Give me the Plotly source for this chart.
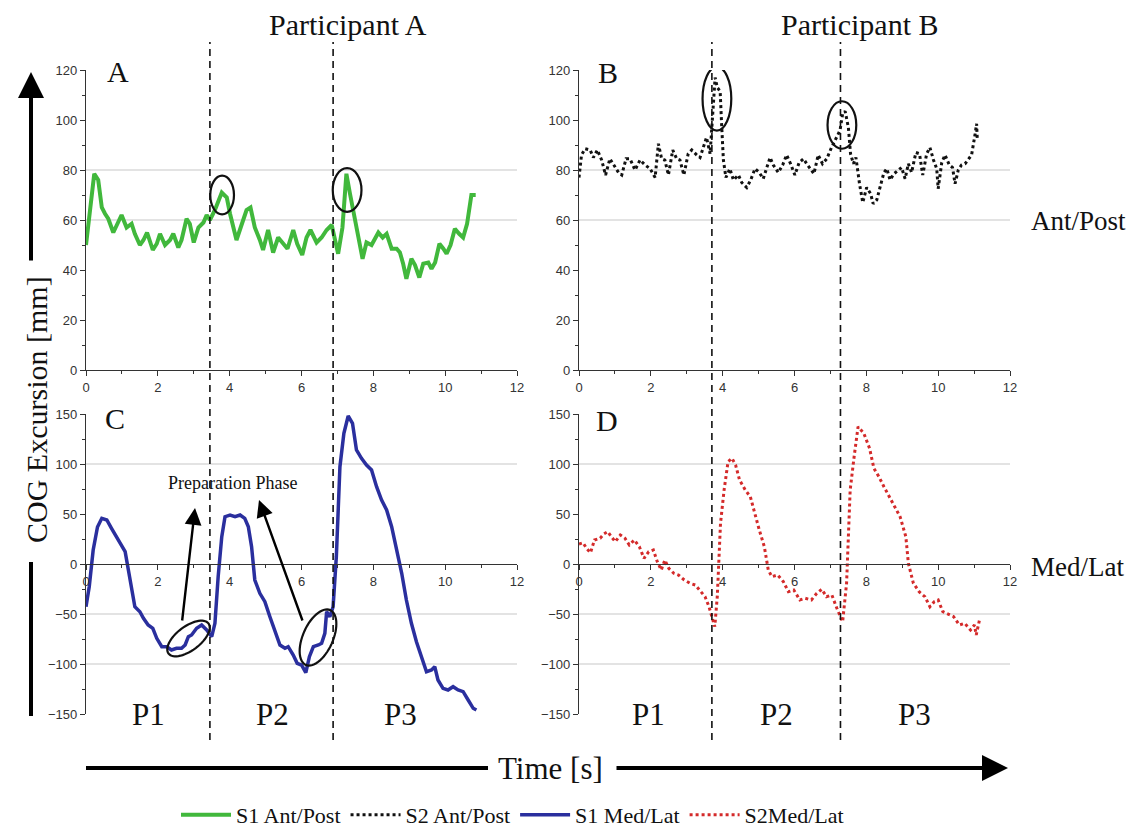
import math
import plotly.graph_objects as go

# ---------------- data ----------------
t_s1_ap = [0, 0.23, 0.34, 0.44, 0.53, 0.62, 0.76, 0.85, 0.99, 1.13, 1.27, 1.36, 1.5, 1.6, 1.7, 1.86, 1.97, 2.06, 2.2, 2.34,
           2.43, 2.57, 2.66, 2.8, 2.89, 3.0, 3.13, 3.27, 3.36, 3.45, 3.59, 3.78, 3.92, 4.01, 4.19, 4.33, 4.47, 4.58, 4.7, 4.84,
           4.93, 5.07, 5.21, 5.35, 5.49, 5.61, 5.77, 5.88, 6.02, 6.14, 6.25, 6.42, 6.56, 6.7, 6.84, 6.93, 7.02, 7.14, 7.25, 7.35,
           7.49, 7.58, 7.7, 7.81, 7.95, 8.14, 8.26, 8.37, 8.51, 8.65, 8.74, 8.83, 8.92, 9.06, 9.16, 9.28, 9.39, 9.53, 9.62, 9.72,
           9.84, 9.95, 10.04, 10.15, 10.27, 10.39, 10.5, 10.61, 10.73, 10.85]
s1_ap = [50, 78.5, 76, 65, 62.5, 60.5, 55, 58, 62, 57, 58.5, 54.5, 50, 52, 55, 48, 50.5, 54.5, 50, 52,
         54.5, 49, 52, 60.5, 58.5, 51, 57, 59, 62, 60, 64, 71, 69, 62.5, 52, 58, 64, 65, 57, 52,
         48, 56, 47, 53, 50.5, 48.5, 56, 50.5, 46, 53, 56, 51, 53, 56, 58, 53, 46.5, 57, 78.5, 70.5,
         60, 52, 44.5, 51, 50, 55, 53, 54.5, 48.5, 48.5, 47, 42.5, 36.5, 44.5, 42, 37, 42.5, 43, 40.5, 43,
         50.5, 48.5, 46.5, 50, 56.5, 54.5, 53, 58.5, 70, 70]

t_s2_ap = [0, 0.07, 0.17, 0.31, 0.4, 0.51, 0.63, 0.74, 0.86, 0.97, 1.1, 1.19, 1.31, 1.42, 1.56, 1.7, 1.84, 1.98, 2.12, 2.21,
           2.3, 2.39, 2.49, 2.61, 2.72, 2.81, 2.92, 3.04, 3.14, 3.28, 3.37, 3.46, 3.55, 3.65, 3.69, 3.74, 3.79, 3.85, 3.93, 3.97,
           4.02, 4.09, 4.2, 4.3, 4.44, 4.53, 4.67, 4.78, 4.9, 5.02, 5.13, 5.23, 5.32, 5.41, 5.55, 5.67, 5.78, 5.89, 6.01, 6.13,
           6.25, 6.34, 6.43, 6.54, 6.66, 6.78, 6.9, 7.03, 7.17, 7.27, 7.34, 7.41, 7.5, 7.56, 7.64, 7.71, 7.81, 7.9, 8.01, 8.12,
           8.19, 8.29, 8.38, 8.49, 8.57, 8.66, 8.77, 8.89, 8.98, 9.08, 9.17, 9.26, 9.38, 9.48, 9.57, 9.68, 9.77, 9.87, 9.96, 10.0,
           10.1, 10.19, 10.31, 10.4, 10.47, 10.56, 10.65, 10.75, 10.84, 10.93, 11.03, 11.07, 11.09]
s2_ap = [77, 86, 88.5, 88, 85, 88, 84, 78, 84.5, 82, 79, 78, 84.5, 84.5, 80, 84, 82, 80.5, 77, 90.5,
         84.5, 84, 78, 88, 84.5, 84, 78, 86.5, 88, 86, 85, 89, 93, 86.5, 96, 107.5, 117, 113, 111.5, 98.5,
         84, 77, 80.5, 76, 78, 75, 73, 76, 80.5, 79, 76.5, 81, 85, 82, 79, 82, 86, 82.5, 78, 83,
         84.5, 82.5, 80.5, 78.5, 86, 82.5, 84.5, 89, 93, 96, 102.5, 103.5, 97, 86.5, 82.5, 85, 74.5, 67, 73, 70.5,
         66.5, 68, 73, 79, 80.5, 76, 78.5, 80, 81, 76.5, 82.5, 79, 87, 86.5, 78, 86.5, 89, 84, 80.5, 72.5,
         83, 86, 82, 81, 74.5, 80, 82, 82.5, 84.5, 86, 94.5, 98.5, 92]

t_s1_ml = [0, 0.09, 0.2, 0.32, 0.44, 0.58, 0.71, 0.85, 0.99, 1.09, 1.18, 1.27, 1.36, 1.5, 1.6, 1.73, 1.86, 1.97, 2.11, 2.25,
           2.38, 2.52, 2.66, 2.76, 2.85, 2.94, 3.08, 3.22, 3.36, 3.5, 3.59, 3.68, 3.78, 3.87, 4.01, 4.15, 4.29, 4.42, 4.52, 4.61,
           4.7, 4.84, 4.98, 5.12, 5.26, 5.4, 5.54, 5.63, 5.77, 5.88, 6.0, 6.12, 6.22, 6.33, 6.47, 6.56, 6.65, 6.7, 6.79, 6.88,
           6.97, 7.07, 7.18, 7.3, 7.42, 7.53, 7.67, 7.81, 7.95, 8.09, 8.23, 8.37, 8.51, 8.65, 8.79, 8.92, 9.06, 9.2, 9.34, 9.48,
           9.62, 9.71, 9.8, 9.94, 10.08, 10.22, 10.36, 10.5, 10.64, 10.78, 10.87]
s1_ml = [-42.7, -22.7, 14, 37, 45.7, 44, 35.7, 27.3, 17.3, 12.3, -6, -26, -42.7, -47.7, -54.3, -61, -64.3, -74.3, -82.7, -82.7,
         -86, -84.3, -84.3, -81, -72.7, -71, -64.3, -61, -66, -72.7, -59.3, -12.7, 27.3, 47.3, 49, 47.3, 49, 45.7, 37.3, 17.3,
         -16, -29.3, -37.7, -52.7, -66, -81, -84.3, -82.7, -91, -99.3, -101, -108.7, -92.7, -82.7, -81, -79.3, -69.3, -47.7, -52.7, -42.7,
         7.3, 97.3, 130.7, 148, 140.7, 114, 105.7, 99, 94, 77.3, 64, 54, 37.3, 14, -9.3, -36, -59.3, -77.7, -92.7, -107.7,
         -106, -102.7, -116, -124.3, -126, -122.7, -126, -127.7, -136, -144.3, -146]

t_s2_ml = [0, 0.11, 0.21, 0.32, 0.43, 0.59, 0.69, 0.8, 0.9, 1.01, 1.15, 1.28, 1.4, 1.54, 1.68, 1.81, 1.94, 2.07, 2.18, 2.29,
           2.39, 2.5, 2.64, 2.77, 2.93, 3.09, 3.24, 3.4, 3.51, 3.62, 3.72, 3.78, 3.85, 3.94, 4.04, 4.15, 4.26, 4.36, 4.47, 4.63,
           4.77, 4.89, 5.02, 5.16, 5.27, 5.37, 5.53, 5.69, 5.83, 5.98, 6.15, 6.3, 6.47, 6.62, 6.76, 6.89, 7.04, 7.18, 7.34, 7.45,
           7.55, 7.66, 7.77, 7.93, 8.09, 8.21, 8.35, 8.49, 8.64, 8.78, 8.94, 9.1, 9.17, 9.31, 9.47, 9.63, 9.77, 9.89, 10.0, 10.13,
           10.27, 10.43, 10.59, 10.74, 10.9, 11.01, 11.06, 11.15]
s2_ml = [20, 21.3, 15.7, 11.3, 24, 25.7, 30, 32.3, 27.3, 22.3, 29, 25.7, 19, 24, 17.3, 5.7, 12.3, 14, 2.3, -6,
         4, -4.3, -9.3, -11, -16, -19.3, -21, -27.7, -32.7, -42.7, -56, -62.7, -32.7, 40.7, 74, 102.3, 105.7, 99, 84, 74,
         67.3, 50.7, 34, 17.3, -6, -12.7, -11, -17.7, -27.7, -26, -36, -34.3, -36, -29.3, -25.3, -32.7, -31, -44.3, -57.7, -19.3,
         74, 107.3, 137.3, 130.7, 115.7, 95.7, 87.3, 77.3, 67.3, 59, 47.3, 27.3, 0.7, -19.3, -27.7, -32.7, -42.7, -37.7, -36, -47.7,
         -50, -52.7, -61, -59.3, -66, -61, -71, -56]

phase_bounds_A = [3.45, 6.88]
phase_bounds_B = [3.70, 7.28]
grid_ap = [60, 80]
grid_ml = [100, -50, -100]
ap_ticks = [0, 20, 40, 60, 80, 100, 120]
ml_ticks = [-150, -100, -50, 0, 50, 100, 150]
x_ticks = [0, 2, 4, 6, 8, 10, 12]
phase_labels = ["P1", "P2", "P3"]
series_names = ["S1 Ant/Post", "S2 Ant/Post", "S1 Med/Lat", "S2Med/Lat"]

# ---------------- layout helpers ----------------
# the page body has an 8px margin, so the figure is sized to fill the rest of the window
OFF = 8
W, H = 1143 - OFF, 829 - OFF
SERIF = "Liberation Serif"
SANS = "Liberation Sans"


def px(p):
    return (p - OFF) / W


def py(p):
    return 1 - (p - OFF) / H


XL = [px(86), px(517)]
XR = [px(579), px(1010)]
YT = [py(370), py(70)]
YB = [py(714), py(414)]

fig = go.Figure()

fig.add_trace(go.Scatter(x=t_s1_ap, y=s1_ap, mode="lines", name=series_names[0],
                         line=dict(color="#41b83c", width=4), xaxis="x", yaxis="y"))
fig.add_trace(go.Scatter(x=t_s2_ap, y=s2_ap, mode="lines", name=series_names[1],
                         line=dict(color="#111111", width=3, dash="dot"), xaxis="x2", yaxis="y2"))
fig.add_trace(go.Scatter(x=t_s1_ml, y=s1_ml, mode="lines", name=series_names[2],
                         line=dict(color="#2a2f9e", width=3.5), xaxis="x3", yaxis="y3"))
fig.add_trace(go.Scatter(x=t_s2_ml, y=s2_ml, mode="lines", name=series_names[3],
                         line=dict(color="#d42a2a", width=3, dash="dot"), xaxis="x4", yaxis="y4"))

axis_common = dict(showline=True, linecolor="#333333", linewidth=1.3, showgrid=False, zeroline=False,
                   ticks="outside", ticklen=5, tickcolor="#333333", tickwidth=1.2, automargin=False,
                   tickfont=dict(family=SANS, size=13, color="#333333"))


def xax(domain, anchor, **kw):
    d = dict(axis_common)
    d.update(domain=domain, range=[0, 12], tickvals=x_ticks, fixedrange=True,
             minor=dict(dtick=1, ticks="outside", ticklen=3, tickcolor="#333333"))
    if anchor is None:
        d.update(anchor="free")
    else:
        d.update(anchor=anchor)
    d.update(kw)
    return d


def yax(domain, anchor, rng, vals, minor_dtick):
    d = dict(axis_common)
    d.update(domain=domain, anchor=anchor, range=rng, tickvals=vals, fixedrange=True,
             minor=dict(dtick=minor_dtick, ticks="outside", ticklen=3, tickcolor="#333333"))
    return d


zero_pos = YB[0] + (0 - (-150)) / 300 * (YB[1] - YB[0])

fig.update_layout(
    width=W, height=H, autosize=False,
    margin=dict(l=0, r=0, t=0, b=0, pad=0, autoexpand=False),
    paper_bgcolor="white", plot_bgcolor="white",
    xaxis=xax(XL, "y"),
    yaxis=yax(YT, "x", [0, 120], ap_ticks, 10),
    xaxis2=xax(XR, "y2"),
    yaxis2=yax(YT, "x2", [0, 120], ap_ticks, 10),
    xaxis3=xax(XL, None, position=zero_pos),
    yaxis3=yax(YB, "x3", [-150, 150], ml_ticks, 25),
    xaxis4=xax(XR, None, position=zero_pos),
    yaxis4=yax(YB, "x4", [-150, 150], ml_ticks, 25),
    showlegend=True,
    legend=dict(orientation="h", x=px(176), xanchor="left", y=py(815), yanchor="middle",
                font=dict(family=SERIF, size=22, color="#111111"), itemwidth=50,
                bgcolor="rgba(0,0,0,0)", tracegroupgap=0),
)

shapes = []
# horizontal grid lines
for g in grid_ap:
    for xr, yr in (("x", "y"), ("x2", "y2")):
        shapes.append(dict(type="line", xref=xr + " domain", yref=yr, x0=0, x1=1, y0=g, y1=g,
                           line=dict(color="#c8c8c8", width=1.2), layer="below"))
for g in grid_ml:
    for xr, yr in (("x3", "y3"), ("x4", "y4")):
        shapes.append(dict(type="line", xref=xr + " domain", yref=yr, x0=0, x1=1, y0=g, y1=g,
                           line=dict(color="#c8c8c8", width=1.2), layer="below"))

# phase boundaries (dashed verticals spanning both rows)
for b in phase_bounds_A:
    shapes.append(dict(type="line", xref="x", yref="paper", x0=b, x1=b, y0=py(740), y1=py(42),
                       line=dict(color="#111111", width=1.6, dash="7px,5px")))
for b in phase_bounds_B:
    shapes.append(dict(type="line", xref="x2", yref="paper", x0=b, x1=b, y0=py(740), y1=py(42),
                       line=dict(color="#111111", width=1.6, dash="7px,5px")))

# ellipses marking peaks (data coordinates: centre, full width, full height)
peak_marks = [("x", "y", 3.79, 70, 0.66, 15.5), ("x", "y", 7.27, 72, 0.8, 17.5),
              ("x2", "y2", 3.84, 108.5, 0.8, 25.5), ("x2", "y2", 7.32, 98, 0.8, 19)]
for xr, yr, cx, cy, w, h in peak_marks:
    shapes.append(dict(type="circle", xref=xr, yref=yr, x0=cx - w / 2, x1=cx + w / 2,
                       y0=cy - h / 2, y1=cy + h / 2, line=dict(color="#111111", width=2.2)))


# tilted ellipses in panel C (pixel geometry)
def tilted_ellipse(cx, cy, a, b, ang_deg, n=60):
    ang = math.radians(ang_deg)
    pts = []
    for i in range(n + 1):
        t = 2 * math.pi * i / n
        ex = a * math.cos(t)
        ey = b * math.sin(t)
        xx = cx + ex * math.cos(ang) - ey * math.sin(ang)
        yy = cy - (ex * math.sin(ang) + ey * math.cos(ang))
        pts.append((px(xx), py(yy)))
    path = "M " + " L ".join(f"{x:.5f},{y:.5f}" for x, y in pts) + " Z"
    return path


for cx, cy, a, b, ang in [(188.5, 638.5, 25, 12, 37), (318, 637.5, 30, 15, 66)]:
    shapes.append(dict(type="path", xref="paper", yref="paper", path=tilted_ellipse(cx, cy, a, b, ang),
                       line=dict(color="#111111", width=2.2)))

# y-axis big arrow lower segment and time-axis left segment
shapes.append(dict(type="line", xref="paper", yref="paper", x0=px(31), x1=px(31), y0=py(716), y1=py(562),
                   line=dict(color="#000000", width=4)))
shapes.append(dict(type="line", xref="paper", yref="paper", x0=px(86), x1=px(488), y0=py(768), y1=py(768),
                   line=dict(color="#000000", width=4)))

annotations = []


def txt(x, y, s, size, family=SERIF, **kw):
    d = dict(xref="paper", yref="paper", x=px(x), y=py(y), text=s, showarrow=False,
             font=dict(family=family, size=size, color="#111111"), xanchor="center", yanchor="middle")
    d.update(kw)
    annotations.append(d)


txt(348, 25, "Participant A", 30)
txt(859, 25, "Participant B", 30)
txt(118, 72, "A", 30)
txt(608, 73, "B", 30)
txt(115, 418, "C", 30)
txt(607, 420, "D", 30)
txt(1078, 221, "Ant/Post", 27)
txt(1077, 567, "Med/Lat", 27)
txt(233, 483, "Preparation Phase", 18)
for xpos, lab in zip([148, 272, 400], phase_labels):
    txt(xpos, 714, lab, 31)
for xpos, lab in zip([648, 776, 914], phase_labels):
    txt(xpos, 714, lab, 31)
txt(37, 410, "COG Excursion [mm]", 30, textangle=-90)
txt(550, 768, "Time [s]", 31)


def arrow(hx, hy, tx, ty, width, size):
    annotations.append(dict(xref="paper", yref="paper", x=px(hx), y=py(hy), ax=tx - hx, ay=ty - hy,
                            axref="pixel", ayref="pixel", text="", showarrow=True,
                            arrowhead=2, arrowsize=size, arrowwidth=width, arrowcolor="#000000"))


arrow(195, 508, 182, 622, 2.4, 1.4)
arrow(259, 500, 303, 622, 2.4, 1.4)
arrow(31, 72, 31, 262, 4, 1.3)
arrow(1008, 768, 615, 768, 4, 1.3)

fig.update_layout(shapes=shapes, annotations=annotations)

fig.write_html("out.html")
